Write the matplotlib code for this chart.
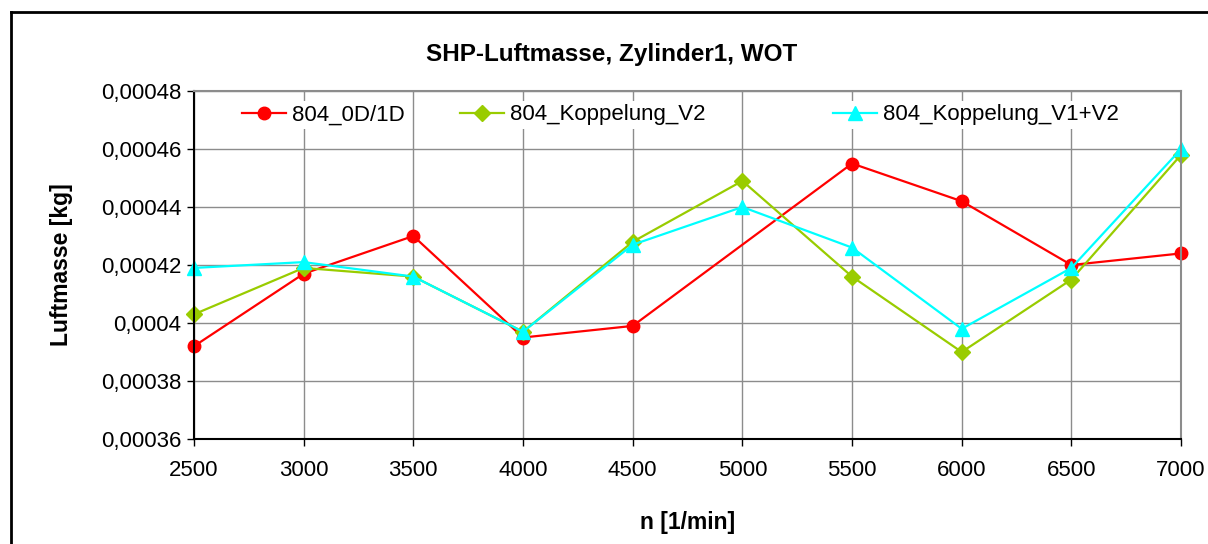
import numpy as np
import matplotlib.pyplot as plt
from matplotlib.ticker import FuncFormatter
from matplotlib.lines import Line2D

plt.rcParams['font.family'] = ['Liberation Sans', 'DejaVu Sans']

drehzahl = [2500, 3000, 3500, 4000, 4500, 5000, 5500, 6000, 6500, 7000]
# 804_0D/1D hat keinen Wert bei 5000 (Linie wird durchgezogen)
luft_0d1d = [0.000392, 0.000417, 0.000430, 0.000395, 0.000399, None,
             0.000455, 0.000442, 0.000420, 0.000424]
luft_v2 = [0.000403, 0.000419, 0.000416, 0.000397, 0.000428, 0.000449,
           0.000416, 0.000390, 0.000415, 0.000458]
luft_v1v2 = [0.000419, 0.000421, 0.000416, 0.000397, 0.000427, 0.000440,
             0.000426, 0.000398, 0.000419, 0.000460]

serien = [
    ("804_0D/1D", luft_0d1d, "#FF0000", "o", 9),
    ("804_Koppelung_V2", luft_v2, "#99CC00", "D", 8.5),
    ("804_Koppelung_V1+V2", luft_v1v2, "#00FFFF", "^", 10.5),
]
# linke Kante der Legendeneintraege (Achsenanteil)
legende_x = [0.0486, 0.2695, 0.6474]

fig = plt.figure(figsize=(12.08, 5.44), dpi=100)
ax = fig.add_axes([0.1606, 0.193, 0.8171, 0.6397])

linien = []
for name, werte, farbe, marker, ms in serien:
    xs = [x for x, v in zip(drehzahl, werte) if v is not None]
    ys = [v for v in werte if v is not None]
    l, = ax.plot(xs, ys, color=farbe, marker=marker, markersize=ms,
                 linewidth=1.6, label=name, clip_on=False)
    linien.append(l)

ax.set_xlim(2500, 7000)
ax.set_ylim(0.00036, 0.00048)
ax.set_xticks(drehzahl)
ax.set_yticks(np.arange(0.00036, 0.000481, 0.00002))

def komma(v, pos):
    s = ("%.5f" % v).rstrip("0")
    return s.replace(".", ",")

ax.yaxis.set_major_formatter(FuncFormatter(komma))
ax.grid(True, color="#8C8C8C", linewidth=1.0)
ax.set_axisbelow(True)

for s in ["top", "right"]:
    ax.spines[s].set_color("#8C8C8C")
    ax.spines[s].set_linewidth(1.5)
for s in ["left", "bottom"]:
    ax.spines[s].set_color("black")
    ax.spines[s].set_linewidth(1.5)

ax.tick_params(axis="both", direction="out", length=5, width=1,
               labelsize=16, colors="black")
ax.tick_params(axis="x", pad=10)
ax.tick_params(axis="y", pad=4)

ax.set_xlabel("n [1/min]", fontsize=16.5, fontweight="bold", labelpad=22)
ax.set_ylabel("Luftmasse [kg]", fontsize=16.5, fontweight="bold", labelpad=20)
fig.text(612 / 1208, 1 - 54 / 544, "SHP-Luftmasse, Zylinder1, WOT",
         fontsize=17.5, fontweight="bold", ha="center", va="center")

# Legende: drei Eintraege einzeln platziert wie im Original
pad = 0.15 * 16 * 100 / 72 / (0.8171 * 1208)
for i, (l, x0) in enumerate(zip(linien, legende_x)):
    leg = ax.legend([l], [l.get_label()], loc="upper left",
                    bbox_to_anchor=(x0 - pad, 1 - 10 / 348),
                    fontsize=16, frameon=True, fancybox=False, framealpha=1,
                    edgecolor="none", handlelength=2.0, handletextpad=0.25,
                    borderpad=0.15, borderaxespad=0)
    if i < len(linien) - 1:
        ax.add_artist(leg)

# aeusserer Rahmen (links und oben)
fig.add_artist(Line2D([11 / 1208, 11 / 1208], [0, 1 - 12 / 544],
                      transform=fig.transFigure, color="black", linewidth=2))
fig.add_artist(Line2D([11 / 1208, 1], [1 - 12 / 544, 1 - 12 / 544],
                      transform=fig.transFigure, color="black", linewidth=2))

fig.savefig("out.png", dpi=100)
